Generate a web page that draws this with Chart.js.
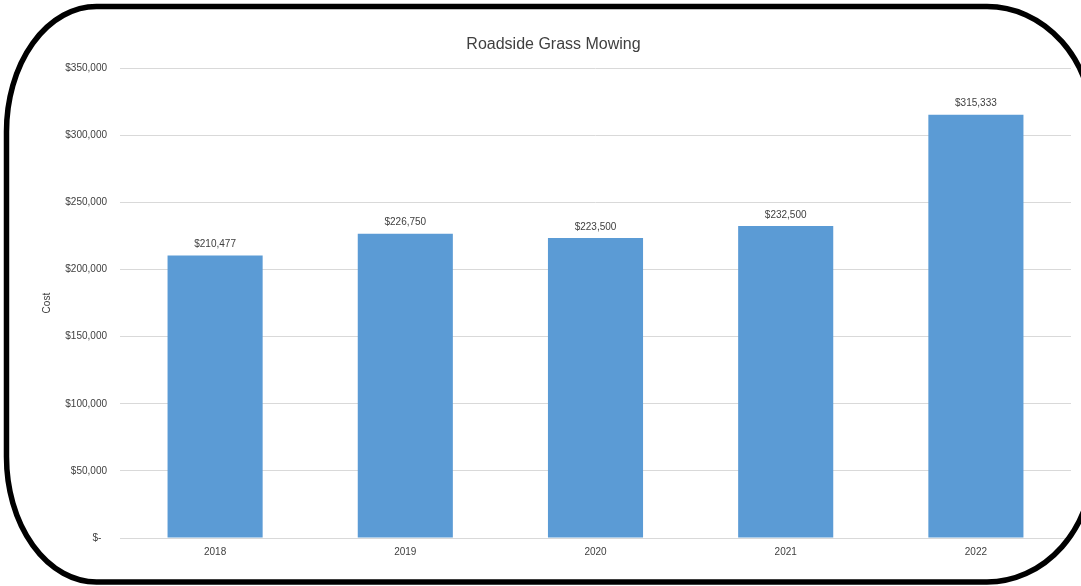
<!DOCTYPE html>
<html>
<head>
<meta charset="utf-8">
<script src="https://cdn.jsdelivr.net/npm/chart.js@4/dist/chart.umd.min.js"></script>
<style>
html,body{margin:0;padding:0;background:#fff;overflow:hidden;}
canvas{display:block;}
</style>
</head>
<body>
<canvas id="c" width="1081" height="586"></canvas>
<script>
const categories = ["2018", "2019", "2020", "2021", "2022"];
const costValues = [210477, 226750, 223500, 232500, 315333];
const yTickValues = [0, 50000, 100000, 150000, 200000, 250000, 300000, 350000];
const chartTitle = "Roadside Grass Mowing";
const yAxisTitle = "Cost";

function money(v) {
  if (v === 0) return "$-  ";
  return "$" + v.toLocaleString("en-US");
}

const FONT = "'Liberation Sans', Arial, sans-serif";

const frame = {
  id: 'frame',
  afterDraw(chart) {
    const ctx = chart.ctx;
    const L = 6.5, T = 6.5, R = 1093, B = 582;
    const rxL = 90, ryL = 125, rxR = 106, ryR = 120;
    ctx.save();
    ctx.beginPath();
    ctx.moveTo(L + rxL, T);
    ctx.lineTo(R - rxR, T);
    ctx.ellipse(R - rxR, T + ryR, rxR, ryR, 0, -Math.PI / 2, 0);
    ctx.lineTo(R, B - ryR);
    ctx.ellipse(R - rxR, B - ryR, rxR, ryR, 0, 0, Math.PI / 2);
    ctx.lineTo(L + rxL, B);
    ctx.ellipse(L + rxL, B - ryL, rxL, ryL, 0, Math.PI / 2, Math.PI);
    ctx.lineTo(L, T + ryL);
    ctx.ellipse(L + rxL, T + ryL, rxL, ryL, 0, Math.PI, Math.PI * 1.5);
    ctx.closePath();
    ctx.lineWidth = 5.5;
    ctx.strokeStyle = "#000";
    ctx.stroke();
    ctx.restore();
  }
};

const dataLabels = {
  id: 'dataLabels',
  afterDatasetsDraw(chart) {
    const ctx = chart.ctx;
    const meta = chart.getDatasetMeta(0);
    ctx.save();
    ctx.font = "10px " + FONT;
    ctx.fillStyle = "#404040";
    ctx.textAlign = "center";
    ctx.textBaseline = "middle";
    meta.data.forEach((bar, i) => {
      ctx.fillText(money(chart.data.datasets[0].data[i]), bar.x, bar.y - 11);
    });
    ctx.restore();
  }
};

new Chart(document.getElementById('c'), {
  type: 'bar',
  data: {
    labels: categories,
    datasets: [{
      label: yAxisTitle,
      data: costValues,
      backgroundColor: "#5B9BD5",
      borderWidth: 0,
      categoryPercentage: 1.0,
      barPercentage: 0.5
    }]
  },
  options: {
    responsive: false,
    animation: false,
    layout: { padding: { left: 36, right: 10, top: 0, bottom: 0 } },
    plugins: {
      legend: { display: false },
      tooltip: { enabled: false },
      title: {
        display: true,
        text: chartTitle,
        color: "#404040",
        font: { family: FONT, size: 16, weight: 'normal' },
        padding: { top: 35, bottom: 14 }
      }
    },
    scales: {
      x: {
        grid: { display: false, drawTicks: false },
        border: { display: true, color: "#d9d9d9" },
        ticks: { color: "#404040", font: { family: FONT, size: 10 }, padding: 8 },
        afterFit(s) { s.height = 48; }
      },
      y: {
        min: 0,
        max: 350000,
        afterBuildTicks(s) { s.ticks = yTickValues.map(v => ({ value: v })); },
        grid: { color: "#d9d9d9", lineWidth: 1, drawTicks: false },
        border: { display: false },
        ticks: {
          color: "#404040",
          font: { family: FONT, size: 10 },
          padding: 13,
          callback: (v) => money(v)
        },
        title: {
          display: true,
          text: yAxisTitle,
          color: "#404040",
          font: { family: FONT, size: 10 },
          padding: { top: 5, bottom: 0 }
        },
        afterFit(s) { s.width = 84; }
      }
    }
  },
  plugins: [dataLabels, frame]
});
</script>
</body>
</html>
